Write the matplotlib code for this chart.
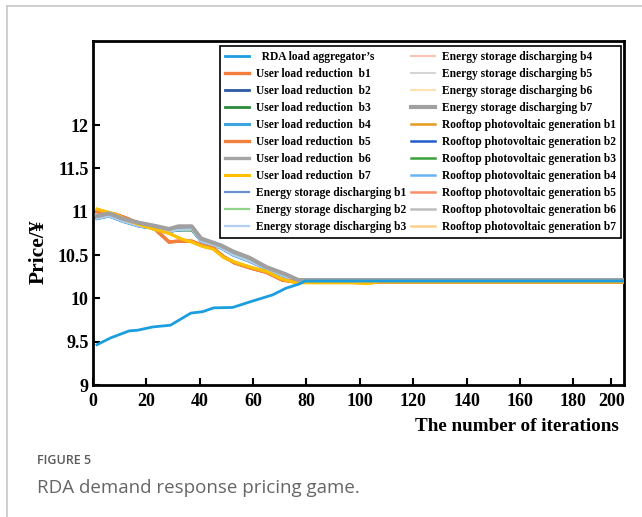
import matplotlib
matplotlib.use("Agg")
import matplotlib.pyplot as plt
from matplotlib.lines import Line2D

plt.rcParams["font.family"] = ["Liberation Serif", "DejaVu Serif"]
plt.rcParams["font.weight"] = "bold"

# ---------- Price trajectories (iteration, price) ----------
rda_x = [1.5, 6.7, 13.6, 16.7, 22.4, 29.0, 36.7, 41.1, 45.2, 52.3, 59.2, 67.3, 72.3, 77.3, 79.5, 199]
rda_y = [9.465, 9.545, 9.625, 9.632, 9.67, 9.69, 9.83, 9.846, 9.89, 9.895, 9.963, 10.04, 10.117, 10.166, 10.20, 10.20]

gray_x = [1.5, 6, 11, 17.5, 22.5, 28.5, 32, 37, 40.5, 48, 52.5, 58.5, 65, 72, 77, 199]
gray_y = [10.95, 10.98, 10.92, 10.87, 10.84, 10.80, 10.83, 10.83, 10.69, 10.61, 10.54, 10.47, 10.36, 10.28, 10.21, 10.21]

mid_x = [1.5, 6, 11, 17.5, 22.5, 28.5, 32, 37, 40.5, 48, 52.5, 58.5, 65, 72, 77, 199]
mid_y = [10.94, 10.96, 10.91, 10.86, 10.83, 10.78, 10.79, 10.79, 10.67, 10.60, 10.52, 10.45, 10.35, 10.27, 10.21, 10.21]

low_x = [1.5, 6, 11, 17.5, 22.5, 28.5, 32, 37, 40.5, 48, 52.5, 58.5, 65, 72, 77, 199]
low_y = [10.92, 10.95, 10.89, 10.83, 10.81, 10.77, 10.79, 10.80, 10.66, 10.58, 10.50, 10.43, 10.34, 10.25, 10.19, 10.19]

orange_x = [1.5, 8.5, 13, 17.5, 22.5, 28.5, 32, 37, 41, 45, 49, 53, 59, 65, 71, 76, 199]
orange_y = [11.00, 10.97, 10.92, 10.86, 10.82, 10.65, 10.66, 10.66, 10.61, 10.58, 10.48, 10.41, 10.35, 10.30, 10.21, 10.19, 10.19]

gold_x = [1.5, 8.5, 13, 17.5, 22.5, 28.5, 33.5, 37, 41, 45, 49, 53, 59, 65, 71, 76, 97, 103, 107, 199]
gold_y = [11.03, 10.97, 10.90, 10.85, 10.80, 10.75, 10.68, 10.65, 10.60, 10.57, 10.47, 10.42, 10.36, 10.31, 10.22, 10.18, 10.18, 10.17, 10.19, 10.19]

paths = {
    "rda": (rda_x, rda_y),
    "gray": (gray_x, gray_y),
    "mid": (mid_x, mid_y),
    "low": (low_x, low_y),
    "orange": (orange_x, orange_y),
    "gold": (gold_x, gold_y),
}

# label, colour, path, line width, z-order
series = [
    ("  RDA load aggregator\u2019s", "#1b9ee0", "rda", 2.0, 9),
    ("User load reduction  b1", "#f47c3c", "orange", 2.4, 6),
    ("User load reduction  b2", "#2c5aa0", "mid", 2.0, 4),
    ("User load reduction  b3", "#2e8b3c", "mid", 2.0, 4),
    ("User load reduction  b4", "#3fa3df", "low", 2.2, 4),
    ("User load reduction  b5", "#f0803c", "orange", 2.4, 6),
    ("User load reduction  b6", "#a5a5a5", "gray", 2.4, 5),
    ("User load reduction  b7", "#ffc000", "gold", 2.2, 6),
    ("Energy storage discharging b1", "#6a8fd0", "low", 1.6, 3),
    ("Energy storage discharging b2", "#8fd48a", "mid", 1.6, 4),
    ("Energy storage discharging b3", "#b4cfee", "low", 1.6, 4),
    ("Energy storage discharging b4", "#f8c4b4", "orange", 1.5, 3),
    ("Energy storage discharging b5", "#d4d4d4", "gray", 1.5, 3),
    ("Energy storage discharging b6", "#fde1b0", "gold", 1.5, 3),
    ("Energy storage discharging b7", "#a0a0a0", "gray", 3.0, 7),
    ("Rooftop photovoltaic generation b1", "#e39b1c", "gold", 1.8, 5),
    ("Rooftop photovoltaic generation b2", "#1f5fc8", "low", 1.8, 3),
    ("Rooftop photovoltaic generation b3", "#3aa13a", "mid", 1.8, 3),
    ("Rooftop photovoltaic generation b4", "#6ab4f2", "low", 1.8, 3),
    ("Rooftop photovoltaic generation b5", "#f8906c", "orange", 1.8, 5),
    ("Rooftop photovoltaic generation b6", "#bdbdbd", "gray", 1.8, 3),
    ("Rooftop photovoltaic generation b7", "#fdd08a", "gold", 1.8, 5),
]

x_ticks = [0, 20, 40, 60, 80, 100, 120, 140, 160, 180, 194.3]
x_tick_labels = ["0", "20", "40", "60", "80", "100", "120", "140", "160", "180", "200"]
y_ticks = [9, 9.5, 10, 10.5, 11, 11.5, 12]
y_tick_labels = ["9", "9.5", "10", "10.5", "11", "11.5", "12"]

# ---------- Figure ----------
W, H = 642, 517
fig = plt.figure(figsize=(W / 100, H / 100), dpi=100)
ax = fig.add_axes([93 / W, (H - 385) / H, 531 / W, 344 / H])

for label, color, key, lw, z in series:
    xs, ys = paths[key]
    ax.plot(xs, ys, color=color, lw=lw, label=label, zorder=z, solid_joinstyle="round")

ax.set_xlim(0, 199)
ax.set_ylim(9, 12.97)
ax.set_xticks(x_ticks)
ax.set_xticklabels(x_tick_labels)
ax.set_yticks(y_ticks)
ax.set_yticklabels(y_tick_labels)
ax.tick_params(direction="in", length=5, width=1.5, labelsize=13, pad=3)
ax.tick_params(axis="x", pad=6)
for lab in ax.get_xticklabels() + ax.get_yticklabels():
    lab.set_fontweight("bold")
for sp in ax.spines.values():
    sp.set_linewidth(2.0)

ax.set_ylabel("Price/\u00a5", fontsize=15.5, fontweight="bold")
ax.yaxis.set_label_coords(-0.083, 0.387)
ax.set_xlabel("The number of iterations", fontsize=13.8, fontweight="bold", ha="right")
ax.xaxis.set_label_coords(0.99, -0.095)

leg = ax.legend(
    loc="upper right", bbox_to_anchor=(0.9945, 0.985), ncol=2,
    prop={"family": "Liberation Serif", "weight": "bold", "size": 8.3},
    frameon=True, fancybox=False, edgecolor="black", framealpha=1,
    handlelength=2.1, handletextpad=0.6, columnspacing=0.4,
    labelspacing=0.43, borderpad=0.45, borderaxespad=0,
)
leg.get_frame().set_linewidth(1.2)

# ---------- Card border and caption ----------
fig.add_artist(Line2D([7 / W, 7 / W], [0, 1 - 6 / H], transform=fig.transFigure,
                      color="#c8c8c8", lw=1.2))
fig.add_artist(Line2D([7 / W, 1], [1 - 6 / H, 1 - 6 / H], transform=fig.transFigure,
                      color="#c8c8c8", lw=1.2))
fig.text(37 / W, 1 - 461 / H, "FIGURE 5", family="Open Sans", weight="semibold",
         fontsize=9, color="#5a5a5a", va="center", ha="left")
fig.text(37 / W, 1 - 488 / H, "RDA demand response pricing game.", family="Open Sans",
         weight="normal", fontsize=13.5, color="#666666", va="center", ha="left")

fig.savefig("out.png", dpi=100)
